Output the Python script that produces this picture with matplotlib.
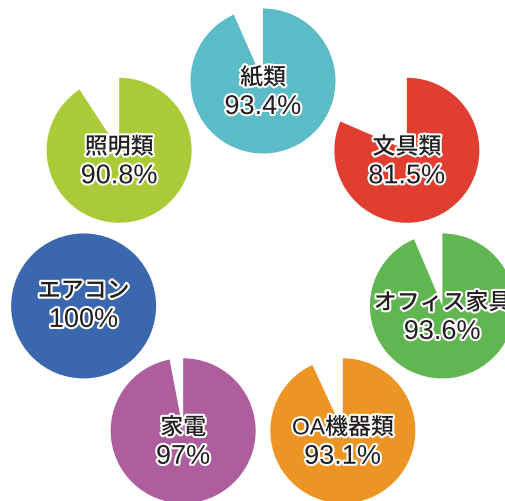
import numpy as np
import matplotlib.pyplot as plt
import matplotlib.patheffects as pe

# Data
categories = ['紙類', '文具類', 'オフィス家具', 'OA機器類', '家電', 'エアコン', '照明類']
rates = [93.4, 81.5, 93.6, 93.1, 97, 100, 90.8]
colors = ['#5BBCC7', '#E03E30', '#62B651', '#EC9524', '#AE5E9D', '#3A67AD', '#AACB37']

W, H = 506, 502
fig = plt.figure(figsize=(W / 100, H / 100), dpi=100)
ax = fig.add_axes([0, 0, 1, 1])

# pies are laid out on a ring, starting at the top and going clockwise
ring_x, ring_y, ring_r = 263, H - 266, 184
pie_r = 72.5
n = len(categories)

outline = [pe.withStroke(linewidth=3, foreground='white')]
font = ['Liberation Sans', 'Noto Sans CJK JP']

for i, (name, rate, col) in enumerate(zip(categories, rates, colors)):
    a = np.deg2rad(90 - i * 360 / n)
    cx = ring_x + ring_r * np.cos(a)
    cy = ring_y + ring_r * np.sin(a)
    ax.pie([rate, 100 - rate], colors=[col, 'none'], startangle=90,
           counterclock=False, center=(cx, cy), radius=pie_r,
           wedgeprops=dict(linewidth=0))
    dy = 15 if rate == 100 else 3
    ax.text(cx, cy + dy, name, ha='center', va='center', fontsize=16.5,
            weight='medium', color='#231F20', family=font, path_effects=outline)
    ax.text(cx, cy + dy - 29, f'{rate:g}%', ha='center', va='center',
            fontsize=19.5, color='#231F20', family=font, path_effects=outline)

ax.set_xlim(0, W)
ax.set_ylim(0, H)
ax.set_aspect('equal')
ax.axis('off')

fig.savefig('out.png', dpi=100, facecolor='white')
